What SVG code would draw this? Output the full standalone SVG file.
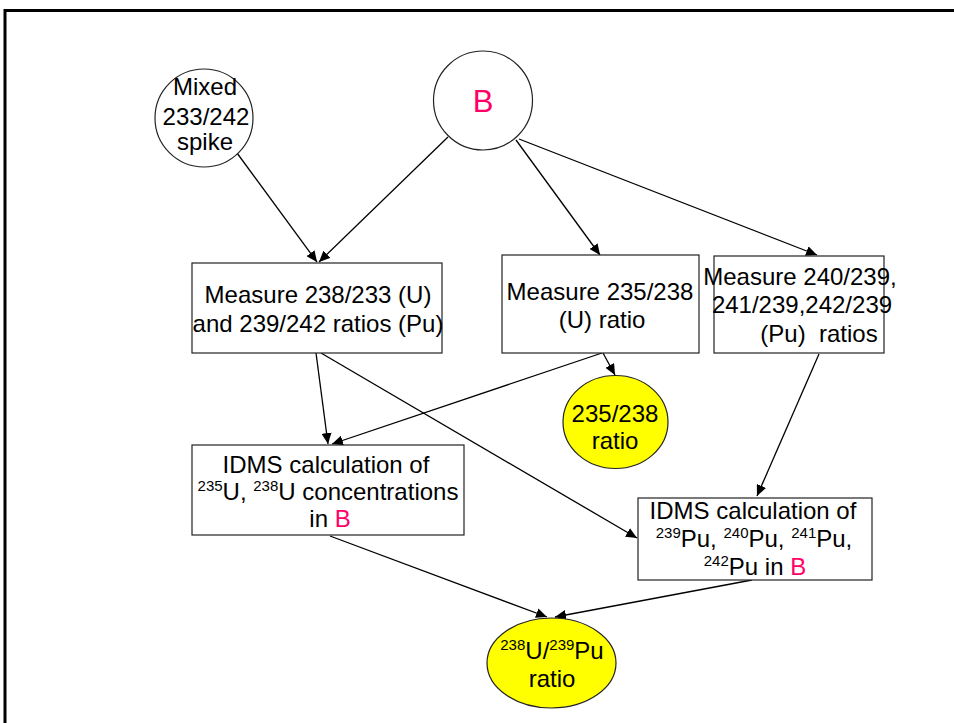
<svg xmlns="http://www.w3.org/2000/svg" width="954" height="723" viewBox="0 0 954 723">
<defs>
<marker id="ah" markerUnits="userSpaceOnUse" markerWidth="12" markerHeight="10" refX="11" refY="5" orient="auto">
<path d="M0,0 L11,5 L0,10 z" fill="#000"/>
</marker>
<style>
text{font-family:"Liberation Sans",Arial,sans-serif;font-size:24px;fill:#000;text-anchor:middle}
.node{fill:#fff;stroke:#222;stroke-width:1.2}
.yel{fill:#ffff00;stroke:#222;stroke-width:1.2}
.b{fill:#ff0066}
.sup{font-size:15px}
.conn line{stroke:#000;stroke-width:1.3;marker-end:url(#ah)}
</style>
</defs>
<rect width="954" height="723" fill="#fff"/>
<g id="frame">
<line x1="4" y1="10.5" x2="954" y2="10.5" stroke="#000" stroke-width="3"/>
<line x1="5" y1="9" x2="5" y2="723" stroke="#000" stroke-width="3"/>
</g>
<g class="conn" id="connectors">
<line x1="237" y1="153" x2="317" y2="262"/>
<line x1="448" y1="137" x2="319" y2="262"/>
<line x1="516" y1="140" x2="600" y2="255"/>
<line x1="519" y1="139" x2="817" y2="255"/>
<line x1="316" y1="353" x2="328" y2="444"/>
<line x1="602" y1="353" x2="332" y2="444"/>
<line x1="603" y1="353" x2="615" y2="375"/>
<line x1="321" y1="353" x2="637" y2="538"/>
<line x1="819" y1="354" x2="757" y2="496"/>
<line x1="330" y1="536" x2="547" y2="617"/>
<line x1="752" y1="580" x2="555" y2="617"/>
</g>
<g id="spike">
<circle class="node" cx="204" cy="118" r="49"/>
<text x="205" y="95">Mixed</text>
<text x="206" y="125">233/242</text>
<text x="205" y="150">spike</text>
</g>
<g id="B">
<circle class="node" cx="483" cy="100.5" r="49.5"/>
<text x="483" y="112" class="b" style="font-size:31px">B</text>
</g>
<g id="m1">
<rect class="node" x="192" y="263" width="250" height="90"/>
<text x="318" y="303">Measure 238/233 (U)</text>
<text x="318" y="332">and 239/242 ratios (Pu)</text>
</g>
<g id="m2">
<rect class="node" x="502" y="255" width="197" height="98"/>
<text x="600" y="300">Measure 235/238</text>
<text x="602" y="328">(U) ratio</text>
</g>
<g id="m3">
<rect class="node" x="714" y="256" width="170" height="97"/>
<text x="800" y="285">Measure 240/239,</text>
<text x="802" y="313">241/239,242/239</text>
<text x="819" y="342" xml:space="preserve">(Pu)  ratios</text>
</g>
<g id="r1">
<ellipse class="yel" cx="615.5" cy="422" rx="52.5" ry="46.5"/>
<text x="615" y="422">235/238</text>
<text x="615" y="449">ratio</text>
</g>
<g id="idmsU">
<rect class="node" x="192" y="445" width="272" height="90"/>
<text x="326" y="473">IDMS calculation of</text>
<text x="328" y="500"><tspan class="sup" dy="-9">235</tspan><tspan dy="9">U, </tspan><tspan class="sup" dy="-9">238</tspan><tspan dy="9">U concentrations</tspan></text>
<text x="330" y="527">in <tspan class="b">B</tspan></text>
</g>
<g id="idmsPu">
<rect class="node" x="638" y="498" width="234" height="82"/>
<text x="753" y="519">IDMS calculation of</text>
<text x="754" y="547"><tspan class="sup" dy="-9">239</tspan><tspan dy="9">Pu, </tspan><tspan class="sup" dy="-9">240</tspan><tspan dy="9">Pu, </tspan><tspan class="sup" dy="-9">241</tspan><tspan dy="9">Pu,</tspan></text>
<text x="755" y="575"><tspan class="sup" dy="-9">242</tspan><tspan dy="9">Pu in </tspan><tspan class="b">B</tspan></text>
</g>
<g id="r2">
<ellipse class="yel" cx="551.5" cy="663" rx="64.5" ry="45"/>
<text x="552" y="659"><tspan class="sup" dy="-9">238</tspan><tspan dy="9">U/</tspan><tspan class="sup" dy="-9">239</tspan><tspan dy="9">Pu</tspan></text>
<text x="552" y="687">ratio</text>
</g>
</svg>
